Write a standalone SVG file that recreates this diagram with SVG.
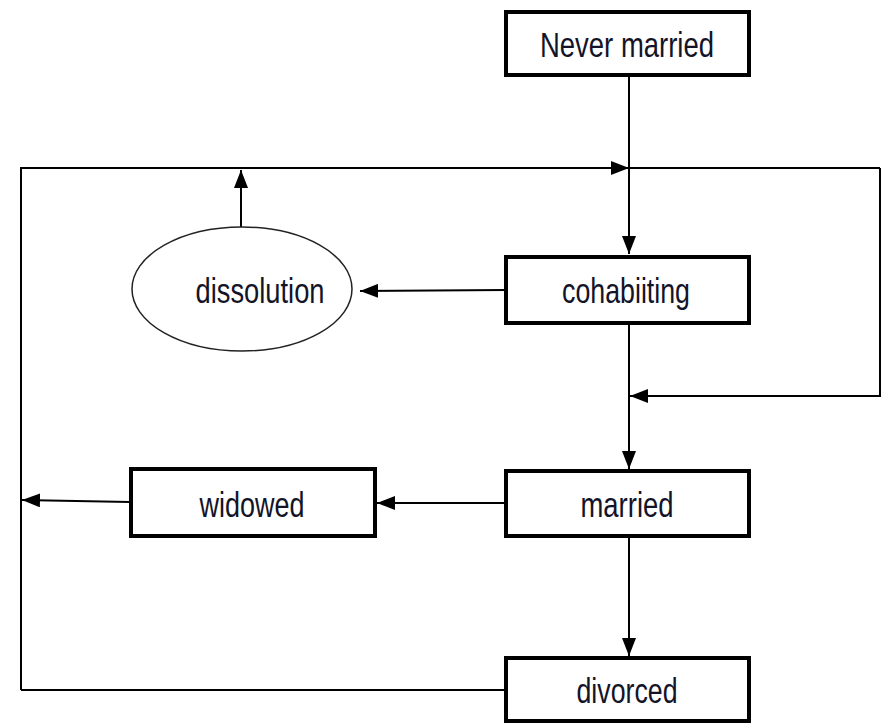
<svg xmlns="http://www.w3.org/2000/svg" width="883" height="725" viewBox="0 0 883 725">
<style>
.box{fill:#fff;stroke:#000;stroke-width:4}
.lbl{font-family:"Liberation Sans Narrow","Liberation Sans",Arial,sans-serif;font-size:35px;fill:#141428;text-anchor:middle}
.ln{fill:none;stroke:#000;stroke-width:2}
</style>
<defs>
<marker id="ah" viewBox="0 0 18 14" refX="18" refY="7" markerWidth="18" markerHeight="14" markerUnits="userSpaceOnUse" orient="auto">
<path d="M0,0 L18,7 L0,14 z" fill="#000"/>
</marker>
</defs>
<rect width="883" height="725" fill="#fff"/>
<g id="connectors">
<line class="ln" x1="629" y1="77" x2="629" y2="254" marker-end="url(#ah)"/>
<polyline class="ln" points="21,690 21,168 629,168" marker-end="url(#ah)"/>
<line class="ln" x1="629" y1="168" x2="880" y2="168"/>
<polyline class="ln" points="880,168 880,396 630,396" marker-end="url(#ah)"/>
<line class="ln" x1="629" y1="325" x2="629" y2="469" marker-end="url(#ah)"/>
<line class="ln" x1="506" y1="290" x2="360" y2="291" marker-end="url(#ah)"/>
<line class="ln" x1="241" y1="227" x2="241" y2="170" marker-end="url(#ah)"/>
<line class="ln" x1="506" y1="503" x2="377" y2="503" marker-end="url(#ah)"/>
<line class="ln" x1="130" y1="502" x2="22" y2="500" marker-end="url(#ah)"/>
<line class="ln" x1="629" y1="538" x2="629" y2="656" marker-end="url(#ah)"/>
<line class="ln" x1="21" y1="690" x2="506" y2="690"/>
</g>
<g id="never-married">
<rect class="box" x="506" y="12" width="243" height="63"/>
<text class="lbl" x="627" y="57" textLength="174" lengthAdjust="spacingAndGlyphs">Never married</text>
</g>
<g id="cohabiting">
<rect class="box" x="506" y="257" width="243" height="66"/>
<text class="lbl" x="626" y="303" textLength="128" lengthAdjust="spacingAndGlyphs">cohabiiting</text>
</g>
<g id="dissolution">
<ellipse cx="242" cy="289" rx="110" ry="62" fill="#fff" stroke="#222" stroke-width="1.5"/>
<text class="lbl" x="260" y="303" textLength="129" lengthAdjust="spacingAndGlyphs">dissolution</text>
</g>
<g id="married">
<rect class="box" x="506" y="471" width="243" height="65"/>
<text class="lbl" x="627" y="517" textLength="93" lengthAdjust="spacingAndGlyphs">married</text>
</g>
<g id="widowed">
<rect class="box" x="131" y="469" width="244" height="67"/>
<text class="lbl" x="252" y="517" textLength="105" lengthAdjust="spacingAndGlyphs">widowed</text>
</g>
<g id="divorced">
<rect class="box" x="506" y="658" width="243" height="63"/>
<text class="lbl" x="627" y="703" textLength="101" lengthAdjust="spacingAndGlyphs">divorced</text>
</g>
</svg>
